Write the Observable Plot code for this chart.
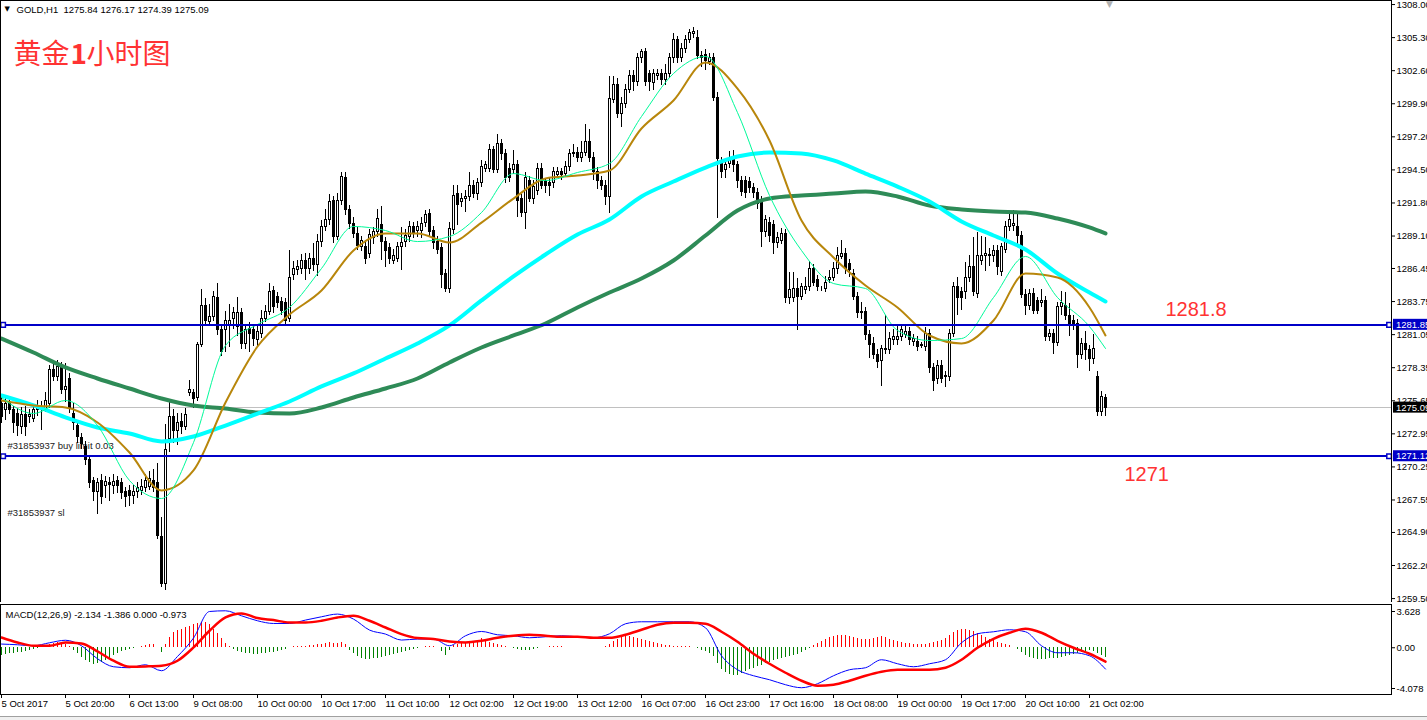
<!DOCTYPE html>
<html><head><meta charset="utf-8">
<script src="https://cdn.jsdelivr.net/npm/d3@7"></script>
<script src="https://cdn.jsdelivr.net/npm/@observablehq/plot@0.6"></script>
<style>
html,body{margin:0;padding:0;background:#fff;}
#wrap{position:relative;width:1427px;height:720px;overflow:hidden;background:#fff;}
#wrap svg{position:absolute;left:0;}
#strip{position:absolute;left:0;top:716px;width:1427px;height:4px;background:#f0f0f0;border-top:1px solid #a0a0a0;}
</style></head><body><div id="wrap"><div id="strip"></div></div>
<script>
// ---------- data ----------
const open = [
1275.4,1274.9,1275.4,1274.9,1274.6,1273.5,1274.5,1274.3,1274.2,1274.9,
1275.0,1274.9,1275.4,1278.2,1277.6,1278.4,1276.5,1277.4,1274.6,1273.6,
1272.6,1271.9,1270.8,1269.1,1268.2,1269.1,1268.7,1268.9,1268.7,1269.1,
1268.9,1268.2,1268.3,1267.9,1268.2,1268.3,1268.5,1268.6,1269.1,1268.9,
1264.5,1260.7,1272.5,1274.3,1273.2,1273.9,1273.5,1276.3,1276.3,1275.9,
1280.2,1283.4,1282.1,1282.5,1284.0,1281.4,1281.4,1281.8,1282.3,1281.7,
1282.8,1280.3,1281.5,1281.4,1280.6,1281.1,1282.3,1282.9,1284.6,1284.1,
1283.7,1283.6,1282.3,1285.9,1286.3,1286.4,1287.1,1286.4,1287.2,1286.7,
1288.6,1289.8,1290.4,1292.0,1289.0,1292.0,1293.8,1291.2,1290.1,1289.3,
1288.2,1288.2,1287.6,1288.9,1289.4,1290.0,1288.6,1288.1,1287.1,1287.2,
1288.2,1288.6,1289.0,1289.8,1289.5,1289.5,1290.2,1290.9,1289.5,1288.6,
1288.1,1286.0,1284.8,1289.6,1292.5,1291.9,1292.1,1292.3,1293.2,1292.5,
1293.4,1294.6,1294.6,1296.1,1294.5,1296.6,1295.8,1294.6,1294.5,1294.9,
1292.1,1291.0,1293.6,1292.1,1292.8,1294.6,1293.5,1293.4,1293.4,1294.1,
1294.3,1294.2,1294.7,1295.8,1295.9,1295.5,1295.9,1296.8,1295.5,1294.3,
1293.6,1293.2,1292.3,1300.2,1301.4,1299.1,1299.9,1301.0,1302.2,1301.7,
1303.6,1304.1,1302.3,1301.6,1302.2,1302.3,1301.8,1302.3,1303.6,1305.1,
1303.6,1304.4,1305.1,1305.6,1305.3,1303.8,1303.9,1303.3,1303.6,1300.4,
1295.1,1294.5,1295.0,1295.5,1294.9,1293.6,1293.6,1293.5,1293.0,1292.6,
1291.9,1289.4,1290.2,1290.0,1288.5,1288.7,1289.3,1284.0,1284.0,1284.8,
1284.1,1284.7,1284.9,1286.4,1285.5,1284.8,1284.8,1285.5,1285.7,1286.4,
1287.4,1287.6,1286.8,1286.0,1284.1,1282.8,1282.9,1281.0,1280.3,1279.4,
1278.9,1279.8,1279.8,1280.6,1280.6,1280.85,1281.0,1281.25,1280.45,1280.45,
1280.2,1280.0,1281.1,1278.3,1277.4,1278.5,1277.7,1277.6,1281.1,1284.9,
1284.5,1284.5,1285.7,1286.6,1284.4,1287.1,1287.5,1287.55,1287.5,1287.9,
1286.2,1288.0,1289.8,1289.9,1289.8,1289.1,1284.3,1283.4,1284.4,1283.8,
1283.6,1283.8,1280.85,1281.1,1280.4,1283.3,1283.4,1282.6,1282.2,1281.9,
1279.4,1280.3,1279.8,1279.1,1277.6,1274.7,1275.84
];
const high = [
1275.9,1275.9,1276.0,1275.2,1275.0,1275.1,1275.2,1274.9,1275.3,1275.7,
1275.6,1276.3,1278.5,1278.9,1278.9,1278.8,1278.7,1277.9,1275.4,1274.0,
1273.0,1272.3,1271.1,1269.4,1269.3,1269.6,1269.5,1269.4,1269.6,1269.5,
1269.3,1268.6,1268.7,1268.7,1269.0,1269.2,1269.6,1269.9,1270.0,1270.5,
1266.1,1273.7,1275.6,1274.9,1274.6,1274.6,1275.0,1277.3,1276.6,1280.4,
1284.7,1284.0,1283.5,1284.6,1285.2,1281.8,1282.9,1283.5,1283.3,1284.1,
1283.2,1281.9,1282.0,1281.9,1281.8,1283.0,1283.4,1285.2,1285.0,1284.5,
1284.1,1284.0,1287.9,1287.0,1287.1,1287.6,1287.7,1287.7,1288.5,1289.2,
1290.4,1291.3,1292.5,1292.3,1292.6,1294.3,1294.3,1291.6,1290.6,1289.8,
1289.1,1288.7,1289.6,1289.8,1291.3,1291.5,1289.0,1288.5,1288.0,1288.6,
1289.8,1289.6,1290.3,1290.2,1290.3,1290.6,1291.2,1291.3,1289.9,1289.1,
1288.5,1286.4,1290.2,1293.2,1293.2,1292.6,1292.8,1294.3,1293.6,1293.8,
1295.3,1295.2,1296.6,1296.4,1297.4,1297.0,1296.2,1295.0,1296.1,1295.3,
1292.5,1294.3,1294.0,1293.6,1295.0,1295.0,1293.8,1293.9,1294.7,1294.7,
1294.6,1295.2,1296.2,1296.6,1296.3,1296.8,1298.2,1297.8,1295.9,1294.7,
1294.0,1293.6,1302.1,1302.1,1302.0,1300.4,1301.5,1302.6,1302.6,1304.0,
1304.3,1304.4,1302.6,1302.7,1302.7,1302.7,1303.1,1304.0,1305.6,1305.4,
1304.8,1305.5,1306.0,1306.1,1305.9,1304.2,1304.3,1304.0,1304.0,1300.8,
1295.5,1295.4,1296.0,1296.1,1295.2,1294.0,1294.0,1293.9,1293.4,1293.0,
1292.3,1290.8,1290.6,1290.4,1289.4,1289.7,1289.6,1286.1,1286.1,1285.6,
1285.2,1285.7,1287.0,1286.8,1285.9,1285.0,1285.8,1286.3,1286.9,1288.2,
1288.7,1288.1,1287.2,1286.4,1284.5,1283.7,1283.3,1281.4,1280.8,1279.8,
1280.2,1282.6,1281.2,1281.5,1281.9,1281.9,1281.8,1281.6,1281.1,1280.9,
1280.4,1281.6,1281.5,1278.7,1278.9,1278.9,1278.0,1281.5,1285.3,1285.7,
1284.9,1286.9,1287.5,1289.0,1289.4,1289.1,1289.0,1288.1,1288.3,1288.3,
1288.5,1290.3,1291.0,1291.2,1290.9,1289.5,1284.7,1284.7,1284.8,1284.1,
1284.7,1284.2,1281.5,1281.5,1283.7,1284.6,1284.5,1283.6,1282.6,1282.3,
1280.7,1281.3,1280.2,1281.1,1278.0,1276.4,1276.17
];
const low = [
1273.8,1274.0,1274.5,1273.0,1272.7,1272.9,1272.7,1273.8,1273.9,1274.4,
1273.2,1274.7,1275.0,1277.2,1277.2,1276.2,1275.5,1274.6,1273.2,1272.2,
1271.7,1270.4,1268.5,1267.4,1266.4,1267.2,1267.7,1267.4,1268.0,1268.1,
1267.6,1266.9,1267.0,1267.2,1267.7,1267.9,1268.2,1268.3,1268.2,1264.3,
1260.4,1260.2,1271.4,1272.2,1272.0,1272.9,1273.2,1276.0,1275.0,1275.6,
1280.0,1281.7,1281.8,1282.1,1281.0,1279.3,1279.6,1280.0,1281.5,1280.9,
1279.8,1279.8,1279.6,1280.1,1280.1,1280.7,1282.0,1282.6,1282.8,1283.2,
1282.6,1281.7,1282.0,1285.5,1285.9,1286.0,1285.5,1286.0,1286.2,1285.8,
1288.2,1289.5,1290.0,1288.5,1288.7,1291.6,1290.8,1289.6,1288.9,1287.9,
1287.8,1286.8,1287.3,1288.4,1289.0,1287.1,1286.5,1286.8,1286.8,1286.9,
1286.3,1288.2,1288.6,1288.9,1289.0,1288.9,1289.8,1289.0,1288.0,1287.6,
1284.8,1284.5,1284.4,1289.2,1290.0,1291.4,1291.0,1291.9,1292.2,1292.0,
1293.1,1294.3,1294.3,1294.2,1294.2,1295.3,1293.4,1293.5,1294.1,1290.6,
1290.6,1289.6,1291.8,1291.7,1292.4,1292.9,1292.6,1292.3,1293.0,1293.8,
1293.6,1293.9,1294.4,1295.5,1295.1,1295.1,1295.6,1295.1,1293.6,1292.9,
1292.8,1291.6,1290.9,1299.9,1298.7,1298.0,1299.5,1300.7,1300.9,1301.3,
1303.2,1301.3,1300.9,1301.0,1301.8,1301.4,1301.4,1302.0,1303.2,1303.2,
1303.3,1304.0,1304.8,1305.2,1303.5,1302.9,1302.6,1303.0,1300.1,1290.5,
1293.8,1293.8,1294.6,1294.3,1293.0,1292.3,1292.2,1292.6,1292.2,1291.3,
1288.2,1289.0,1288.6,1287.6,1288.1,1288.4,1283.6,1283.5,1283.7,1281.4,
1283.8,1284.3,1284.6,1285.0,1284.6,1284.6,1284.5,1285.2,1285.4,1286.0,
1287.2,1286.0,1285.7,1283.8,1282.4,1282.3,1280.6,1279.1,1279.0,1278.3,
1276.8,1279.4,1279.4,1280.2,1280.2,1280.5,1280.7,1280.2,1280.1,1279.7,
1279.9,1279.7,1277.9,1276.4,1277.0,1277.1,1276.7,1277.2,1280.8,1282.6,
1283.0,1283.9,1285.3,1284.2,1284.0,1286.7,1286.2,1286.6,1286.9,1285.9,
1285.8,1287.7,1289.5,1289.5,1288.2,1284.0,1282.6,1283.0,1282.7,1282.7,
1283.3,1280.5,1280.5,1279.4,1280.1,1282.6,1282.2,1280.9,1281.4,1278.3,
1279.0,1278.9,1278.0,1278.6,1274.4,1274.4,1274.39
];
const close = [
1274.3,1275.4,1274.9,1273.8,1273.6,1274.5,1273.5,1274.45,1274.9,1275.1,
1275.05,1275.6,1278.2,1277.6,1278.4,1276.5,1276.8,1275.1,1273.8,1272.7,
1272.1,1270.8,1268.9,1268.2,1268.9,1267.8,1269.0,1268.8,1269.0,1268.7,
1268.1,1267.8,1267.9,1268.2,1268.5,1268.6,1269.1,1269.3,1268.5,1264.6,
1260.7,1271.6,1274.3,1273.2,1273.8,1273.5,1274.5,1276.5,1275.8,1280.2,
1283.4,1282.2,1282.5,1284.1,1281.4,1279.6,1282.2,1282.2,1282.8,1282.8,
1280.3,1281.4,1281.1,1280.7,1281.3,1282.3,1282.9,1284.5,1283.3,1283.6,
1283.0,1282.2,1285.7,1286.4,1286.6,1287.1,1286.4,1287.2,1286.7,1288.6,
1289.8,1290.4,1291.9,1289.0,1292.0,1293.9,1291.2,1290.1,1289.3,1288.3,
1288.7,1287.2,1289.2,1289.4,1290.5,1288.6,1287.9,1287.2,1287.5,1288.2,
1288.5,1289.1,1289.8,1289.3,1289.8,1290.1,1290.8,1289.4,1288.5,1288.0,
1285.9,1284.8,1289.7,1292.4,1291.6,1292.1,1292.3,1293.2,1292.5,1293.4,
1294.7,1294.9,1296.1,1294.5,1296.6,1295.8,1293.8,1293.8,1294.9,1292.0,
1291.0,1293.8,1292.1,1293.1,1294.6,1293.2,1293.2,1293.2,1294.3,1294.3,
1294.1,1294.7,1295.8,1295.9,1295.5,1295.9,1296.8,1295.5,1294.3,1293.6,
1293.2,1292.3,1300.3,1301.4,1299.1,1299.9,1301.0,1302.2,1301.7,1303.6,
1304.1,1301.7,1301.7,1302.3,1302.3,1301.8,1302.3,1303.6,1305.1,1303.6,
1304.4,1305.1,1305.7,1305.75,1303.8,1303.6,1303.4,1303.6,1300.4,1295.4,
1294.3,1294.9,1295.4,1294.9,1293.6,1292.7,1292.6,1293.0,1292.6,1291.7,
1289.4,1290.4,1289.1,1288.5,1288.9,1289.3,1284.0,1284.7,1284.8,1284.1,
1284.9,1284.9,1286.4,1285.3,1284.9,1284.8,1285.3,1285.7,1286.4,1287.5,
1287.6,1286.4,1286.3,1284.1,1282.8,1282.9,1281.0,1280.2,1279.4,1278.8,
1279.9,1279.9,1280.7,1280.85,1280.85,1281.4,1281.25,1280.6,1280.7,1280.0,
1280.1,1281.1,1278.3,1277.3,1278.5,1277.4,1277.6,1281.1,1284.9,1284.0,
1284.0,1285.7,1286.6,1284.5,1287.5,1287.5,1287.6,1287.5,1287.9,1286.6,
1288.2,1289.8,1290.4,1290.1,1289.1,1284.3,1283.4,1284.4,1283.0,1283.0,
1283.8,1280.85,1281.1,1280.4,1283.3,1283.6,1282.6,1281.8,1281.8,1279.4,
1280.3,1279.8,1279.1,1279.9,1274.7,1275.95,1275.09
];
// moving averages, read every 8 bars (bar 0,8,...,272) plus the last bar 276
const maFast = [1275.92,1274.61,1275.67,1273.63,1269.14,1267.67,1272.24,1280.16,1281.88,1283.27,1286.45,1289.88,1289.55,1288.65,1289.06,1291.02,1294.20,1293.63,1294.29,1295.02,1298.86,1302.37,1303.76,1299.18,1292.41,1287.92,1285.22,1284.82,1281.39,1280.57,1280.73,1284.08,1287.43,1284.08,1281.71,1279.92];
const maGold = [1275.67,1275.27,1275.10,1273.88,1271.43,1268.33,1269.96,1275.51,1280.08,1282.69,1284.65,1287.92,1289.31,1289.31,1288.57,1290.20,1292.16,1293.80,1294.04,1294.45,1297.88,1300.16,1303.27,1301.14,1296.90,1290.37,1287.35,1285.06,1283.27,1280.98,1280.33,1282.20,1286.04,1285.71,1283.27,1280.98];
const maCyan = [1276.08,1275.27,1274.29,1273.47,1272.98,1272.33,1272.73,1273.63,1274.61,1275.59,1276.82,1277.88,1279.10,1280.33,1281.80,1283.84,1285.80,1287.59,1289.22,1290.45,1292.33,1293.55,1294.69,1295.59,1295.92,1295.84,1295.27,1294.20,1293.14,1291.92,1290.29,1289.14,1288.00,1286.04,1284.49,1283.76];
const maSea = [1280.73,1279.59,1278.37,1277.47,1276.65,1275.84,1275.27,1275.02,1274.69,1274.61,1275.10,1275.92,1276.65,1277.47,1278.78,1280.00,1280.98,1281.96,1283.27,1284.49,1285.63,1287.10,1289.14,1291.18,1292.16,1292.41,1292.57,1292.73,1292.33,1291.59,1291.27,1291.10,1291.02,1290.53,1289.80,1289.31];
// MACD lines, read every 4 bars (0..276)
const macdMain = [0.37,0.3,0.2,0.5,0.75,0.2,-1.1,-1.9,-2.0,-1.7,-2.3,-0.87,0.97,3.63,3.7,3.2,2.7,2.43,2.43,2.77,3.1,3.37,2.87,1.77,1.37,0.77,0.87,0.87,0.2,1.2,1.63,1.3,1.2,1.0,1.1,1.2,1.1,1.0,1.4,2.4,2.6,2.6,2.6,2.6,2.0,-0.8,-2.2,-2.8,-3.2,-3.7,-4.0,-3.6,-2.8,-2.2,-2.0,-1.2,-1.6,-1.9,-1.6,-1.2,0.5,1.4,1.6,1.8,1.6,0.2,-0.5,-0.5,-0.8,-2.134];
const macdSignal = [1.03,0.53,0.2,0.2,0.53,0.43,-0.37,-1.3,-1.9,-1.87,-1.8,-1.3,0.03,1.7,3.03,3.43,2.97,2.77,2.53,2.53,2.7,3.03,3.2,2.7,2.03,1.37,0.97,0.87,0.63,0.53,0.7,1.0,1.2,1.3,1.2,1.1,1.1,1.0,1.0,1.3,1.8,2.3,2.5,2.5,2.4,1.6,0.6,-0.6,-1.6,-2.5,-3.3,-3.8,-3.7,-3.3,-2.8,-2.4,-2.2,-2.2,-2.2,-2.0,-1.2,0.0,0.9,1.5,1.9,1.5,0.7,0.0,-0.6,-1.386];
// MACD histogram, one value per bar
const macdHist = [
-0.8,-0.7,-0.6,-0.6,-0.5,-0.5,-0.4,-0.3,-0.2,-0.1,
0.1,0.2,0.3,0.4,0.5,0.5,0.3,0.1,-0.3,-0.6,
-1.0,-1.3,-1.5,-1.7,-1.6,-1.5,-1.3,-1.1,-0.8,-0.6,
-0.4,-0.3,-0.2,-0.1,0.0,0.1,0.2,0.3,0.3,0.0,
-0.5,0.3,1.0,1.5,1.7,1.8,2.0,2.1,2.3,2.4,
2.5,2.5,2.3,1.8,1.4,0.9,0.4,0.1,-0.2,-0.4,
-0.5,-0.6,-0.6,-0.7,-0.7,-0.6,-0.6,-0.5,-0.5,-0.4,
-0.3,-0.2,0.0,0.1,0.1,0.1,0.1,0.2,0.2,0.3,
0.3,0.4,0.5,0.4,0.4,0.5,0.3,-0.3,-0.6,-0.9,
-1.1,-1.2,-1.2,-1.1,-1.1,-1.0,-0.9,-0.8,-0.7,-0.6,
-0.5,-0.4,-0.3,-0.2,-0.1,0.0,0.1,0.1,0.1,0.0,
-0.4,-0.8,-0.3,0.2,0.3,0.4,0.5,0.6,0.6,0.7,
0.9,0.7,0.5,0.4,0.3,0.2,0.1,0.0,
-0.1,-0.2,-0.3,-0.3,-0.3,-0.2,-0.1,0.0,
0.0,0.1,0.1,0.1,0.1,0.0,0.0,0.0,0.0,0.0,0.0,0.0,0.0,0.0,0.0,0.1,
0.3,0.6,0.8,1.0,1.1,1.1,1.0,0.9,
0.8,0.7,0.6,0.5,0.4,0.3,0.2,0.2,0.1,0.1,0.1,0.1,
0.1,0.0,-0.1,-0.3,-0.4,-0.6,-0.9,-1.6,
-2.2,-2.5,-2.7,-2.8,-2.8,-2.6,-2.4,-2.2,-2.1,-1.9,-1.8,-1.6,-1.5,-1.3,-1.2,-1.1,
-1.0,-0.9,-0.8,-0.7,-0.5,-0.3,-0.1,0.2,0.4,0.6,0.8,1.0,
1.1,1.2,1.2,1.2,1.1,1.0,0.9,0.8,0.8,0.8,0.9,1.0,
1.1,1.0,0.8,0.7,0.6,0.5,0.4,0.4,0.3,0.3,0.3,0.3,0.4,0.5,0.6,0.7,
0.9,1.2,1.5,1.7,1.8,1.8,1.7,1.6,1.4,1.2,1.0,0.8,
0.7,0.5,0.4,0.3,0.2,0.0,-0.2,-0.5,-0.8,-1.0,-1.1,-1.2,
-1.2,-1.2,-1.1,-1.1,-1.1,-1.0,-0.9,-0.8,-0.7,-0.6,-0.5,-0.4,-0.3,-0.4,-0.6,-0.8,-0.97
];
const priceTicks = [1308.00,1305.30,1302.60,1299.90,1297.20,1294.50,1291.80,1289.10,1286.45,1283.75,1281.05,1278.35,1275.65,1272.95,1270.25,1267.55,1264.90,1262.20,1259.50];
const macdTicks = [3.628, 0, -4.078];
const macdTickLabels = ["3.628", "0.00", "-4.078"];
const timeTickBars = [0,16,32,48,64,80,96,112,128,144,160,176,192,208,224,240,256,272];
const timeLabels = ["5 Oct 2017","5 Oct 20:00","6 Oct 13:00","9 Oct 08:00","10 Oct 00:00","10 Oct 17:00","11 Oct 10:00","12 Oct 02:00","12 Oct 19:00","13 Oct 12:00","16 Oct 07:00","16 Oct 23:00","17 Oct 16:00","18 Oct 08:00","19 Oct 00:00","19 Oct 17:00","20 Oct 10:00","21 Oct 02:00"];
const levelPrices = [1281.85, 1271.12];
const levelBoxLabels = ["1281.85", "1271.12"];
const levelNotes = ["1281.8", "1271"];
const bidPrice = 1275.09;
const bidLabel = "1275.09";
const orderNotes = ["#31853937 buy limit 0.03", "#31853937 sl"];
const orderPrices = [1271.12, 1265.63];
const chartTitle = "GOLD,H1  1275.84 1276.17 1274.39 1275.09";
const cnTitleParts = ["黄金", "1", "小时图"];
const macdTitle = "MACD(12,26,9) -2.134 -1.386 0.000 -0.973";

// ---------- build ----------
const font = "'Liberation Sans', Arial, sans-serif";
const cjk = "'Noto Sans CJK SC'";
const xDomain = [-0.25, 347.5];
const bars = close.map((c, i) => ({i, o: open[i], h: high[i], l: low[i], c}));
const maIdx = d3.range(0, 273, 8).concat([276]);
const maRows = vals => vals.map((v, k) => ({i: maIdx[k], v}));
const mIdx = d3.range(0, 277, 4);
const mRows = vals => vals.map((v, k) => ({i: mIdx[k], v}));
const histRows = macdHist.map((v, i) => ({i, v}));
const boxes = levelPrices.map((p, k) => ({p, t: levelBoxLabels[k], f: "#0000c8"})).concat([{p: bidPrice, t: bidLabel, f: "#000"}]);
const orders = orderNotes.map((t, k) => ({t, p: orderPrices[k]}));
const blue = "#0000c8";
const red = "#ff3333";

const main = Plot.plot({
  width: 1427, height: 602,
  marginLeft: 0, marginRight: 36, marginTop: 0, marginBottom: 0,
  style: {fontFamily: font, fontSize: "9.5px", background: "transparent"},
  x: {domain: xDomain, axis: null},
  y: {domain: [1259.18, 1308.33]},
  marks: [
    Plot.ruleY([bidPrice], {stroke: "#c0c0c0", shapeRendering: "crispEdges"}),
    Plot.text(orders, {x: 1.5, y: "p", text: "t", dy: -7, textAnchor: "start", lineAnchor: "bottom", fill: "#222"}),
    Plot.ruleX(bars, {x: "i", y1: "l", y2: "h", stroke: "#000", shapeRendering: "crispEdges"}),
    Plot.rect(bars, {x1: d => d.i - 0.25, x2: d => d.i + 0.25, y1: "o", y2: "c", fill: d => d.c >= d.o ? "#fff" : "#000", stroke: "#000", shapeRendering: "crispEdges"}),
    Plot.line(maRows(maSea), {x: "i", y: "v", stroke: "#2e8b57", strokeWidth: 4, curve: "monotone-x"}),
    Plot.line(maRows(maCyan), {x: "i", y: "v", stroke: "#00ffff", strokeWidth: 4, curve: "monotone-x"}),
    Plot.line(maRows(maGold), {x: "i", y: "v", stroke: "#b8860b", strokeWidth: 2, curve: "monotone-x"}),
    Plot.line(maRows(maFast), {x: "i", y: "v", stroke: "#00fa9a", strokeWidth: 1, curve: "monotone-x"}),
    Plot.ruleY(levelPrices, {stroke: blue, strokeWidth: 2, shapeRendering: "crispEdges"}),
    Plot.dot(levelPrices.flatMap(p => [{i: 0.4, p}, {i: 346.9, p}]), {x: "i", y: "p", symbol: "square", r: 2.6, fill: "#fff", stroke: blue, strokeWidth: 1.5}),
    Plot.text([levelNotes[0]], {x: 291, y: levelPrices[0], dy: -9, textAnchor: "start", lineAnchor: "bottom", fontSize: 20, fill: red}),
    Plot.text([levelNotes[1]], {x: 280.75, y: levelPrices[1], dy: 25, textAnchor: "start", lineAnchor: "bottom", fontSize: 20, fill: red}),
    Plot.axisY(priceTicks, {anchor: "right", tickSize: 3, tickPadding: 2, tickFormat: d => d.toFixed(2), label: null, fontSize: 9.5}),
    Plot.rect(boxes, {x1: 348, x2: 358, y1: d => d.p - 0.45, y2: d => d.p + 0.45, fill: "f"}),
    Plot.text(boxes, {x: 348.6, y: "p", text: "t", textAnchor: "start", fill: "#fff", fontSize: 9.5}),
    Plot.frame({stroke: "#000"}),
    Plot.text([chartTitle], {frameAnchor: "top-left", dx: 16, dy: 12, lineAnchor: "bottom", textAnchor: "start", fill: "#000"}),
    Plot.text(["▼"], {frameAnchor: "top-left", dx: 4, dy: 10, lineAnchor: "bottom", textAnchor: "start", fontFamily: "DejaVu Sans", fontSize: 7, fill: "#000"}),
    Plot.text(["▼"], {x: 277, frameAnchor: "top", dy: 6, lineAnchor: "bottom", fontFamily: "DejaVu Sans", fontSize: 9, fill: "#b0b0b0"}),
    Plot.text([cnTitleParts[0]], {frameAnchor: "top-left", dx: 13, dy: 63, lineAnchor: "bottom", textAnchor: "start", fontFamily: cjk, fontSize: 28, fill: red}),
    Plot.text([cnTitleParts[1]], {frameAnchor: "top-left", dx: 70, dy: 63, lineAnchor: "bottom", textAnchor: "start", fontFamily: cjk, fontWeight: "bold", fontSize: 28, fill: red}),
    Plot.text([cnTitleParts[2]], {frameAnchor: "top-left", dx: 86, dy: 63, lineAnchor: "bottom", textAnchor: "start", fontFamily: cjk, fontSize: 28, fill: red})
  ]
});
main.style.top = "0px";

const tickLabelMap = new Map(timeTickBars.map((b, k) => [b, timeLabels[k]]));
const macdLabelMap = new Map(macdTicks.map((v, k) => [v, macdTickLabels[k]]));
const macd = Plot.plot({
  width: 1427, height: 118,
  marginLeft: 0, marginRight: 36, marginTop: 2, marginBottom: 26,
  style: {fontFamily: font, fontSize: "9.5px", background: "transparent"},
  x: {domain: xDomain},
  y: {domain: [-4.678, 4.329]},
  marks: [
    Plot.ruleX(histRows, {x: "i", y1: 0, y2: "v", stroke: d => d.v >= 0 ? "#ff0000" : "#008000", shapeRendering: "crispEdges"}),
    Plot.line(mRows(macdMain), {x: "i", y: "v", stroke: "#0000ff", strokeWidth: 1, curve: "monotone-x"}),
    Plot.line(mRows(macdSignal), {x: "i", y: "v", stroke: "#ff0000", strokeWidth: 2.5, curve: "monotone-x"}),
    Plot.frame({stroke: "#000"}),
    Plot.axisY(macdTicks, {anchor: "right", tickSize: 3, tickPadding: 2, tickFormat: d => macdLabelMap.get(d), label: null, fontSize: 9.5}),
    Plot.axisX(timeTickBars, {anchor: "bottom", tickSize: 4, tickPadding: 2, tickFormat: d => tickLabelMap.get(d), textAnchor: "start", label: null, fontSize: 9.5}),
    Plot.text([macdTitle], {frameAnchor: "top-left", dx: 5, dy: 13, lineAnchor: "bottom", textAnchor: "start", fill: "#000"})
  ]
});
macd.style.top = "602px";

const wrap = document.getElementById("wrap");
wrap.appendChild(main);
wrap.appendChild(macd);
</script>
</body></html>
